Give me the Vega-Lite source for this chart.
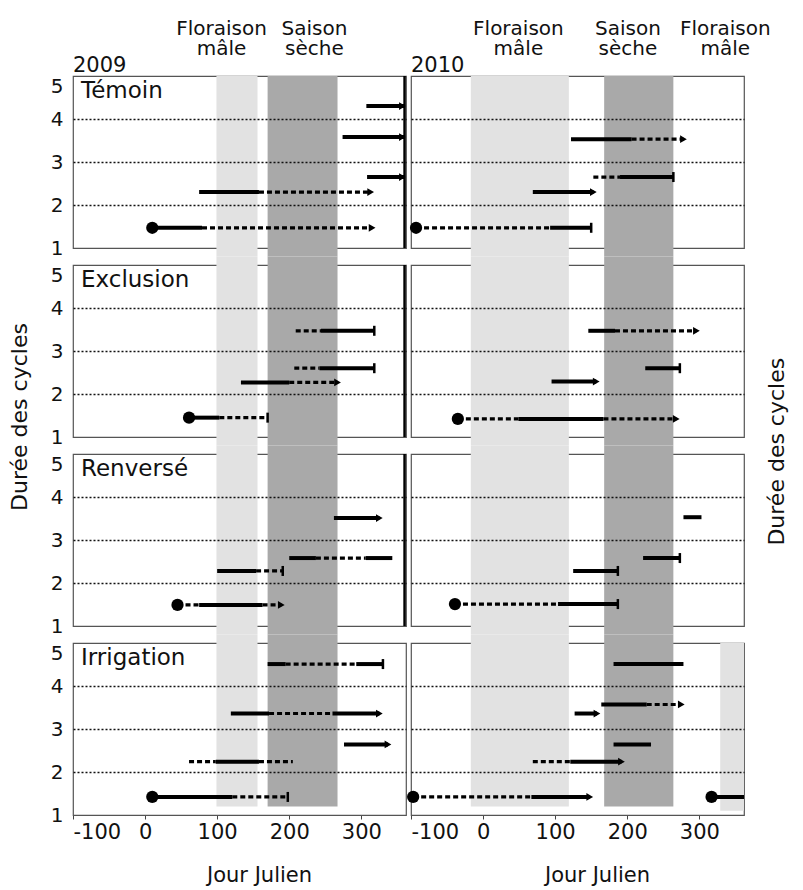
{
  "$schema": "https://vega.github.io/schema/vega-lite/v6.json",
  "padding": {"left": 8, "top": 18, "right": 4, "bottom": 2},
  "title": {"text": "Durée des cycles", "orient": "right", "anchor": "middle", "angle": 270, "fontSize": 22, "font": "DejaVu Sans", "fontWeight": "normal", "color": "#111", "offset": -26},
  "bounds": "flush",
  "data": {"values": [
    {"kind":"band","year":"2009","treatment":"Témoin","start":99,"end":156,"band":"Floraison mâle"},
    {"kind":"band","year":"2009","treatment":"Témoin","start":170,"end":267,"band":"Saison sèche"},
    {"kind":"band","year":"2010","treatment":"Témoin","start":-17,"end":119,"band":"Floraison mâle"},
    {"kind":"band","year":"2010","treatment":"Témoin","start":168,"end":264,"band":"Saison sèche"},
    {"kind":"band","year":"2009","treatment":"Exclusion","start":99,"end":156,"band":"Floraison mâle"},
    {"kind":"band","year":"2009","treatment":"Exclusion","start":170,"end":267,"band":"Saison sèche"},
    {"kind":"band","year":"2010","treatment":"Exclusion","start":-17,"end":119,"band":"Floraison mâle"},
    {"kind":"band","year":"2010","treatment":"Exclusion","start":168,"end":264,"band":"Saison sèche"},
    {"kind":"band","year":"2009","treatment":"Renversé","start":99,"end":156,"band":"Floraison mâle"},
    {"kind":"band","year":"2009","treatment":"Renversé","start":170,"end":267,"band":"Saison sèche"},
    {"kind":"band","year":"2010","treatment":"Renversé","start":-17,"end":119,"band":"Floraison mâle"},
    {"kind":"band","year":"2010","treatment":"Renversé","start":168,"end":264,"band":"Saison sèche"},
    {"kind":"band","year":"2009","treatment":"Irrigation","start":99,"end":156,"band":"Floraison mâle"},
    {"kind":"band","year":"2009","treatment":"Irrigation","start":170,"end":267,"band":"Saison sèche"},
    {"kind":"band","year":"2010","treatment":"Irrigation","start":-17,"end":119,"band":"Floraison mâle"},
    {"kind":"band","year":"2010","treatment":"Irrigation","start":168,"end":264,"band":"Saison sèche"},
    {"kind":"band","year":"2010","treatment":"Irrigation","start":329,"end":362,"band":"Floraison mâle"},

    {"kind":"panel","year":"2009","treatment":"Témoin"},
    {"kind":"panel","year":"2010","treatment":"Témoin"},
    {"kind":"panel","year":"2009","treatment":"Exclusion"},
    {"kind":"panel","year":"2010","treatment":"Exclusion"},
    {"kind":"panel","year":"2009","treatment":"Renversé"},
    {"kind":"panel","year":"2010","treatment":"Renversé"},
    {"kind":"panel","year":"2009","treatment":"Irrigation"},
    {"kind":"panel","year":"2010","treatment":"Irrigation"},

    {"kind":"toplabel","year":"2009","treatment":"Témoin","pos":106,"label":"Floraison\nmâle"},
    {"kind":"toplabel","year":"2009","treatment":"Témoin","pos":235,"label":"Saison\nsèche"},
    {"kind":"toplabel","year":"2010","treatment":"Témoin","pos":49,"label":"Floraison\nmâle"},
    {"kind":"toplabel","year":"2010","treatment":"Témoin","pos":201,"label":"Saison\nsèche"},
    {"kind":"toplabel","year":"2010","treatment":"Témoin","pos":336,"label":"Floraison\nmâle"},

    {"kind":"seg","year":"2009","treatment":"Témoin","cycle":1.47,"start":10,"end":79,"style":"solid"},
    {"kind":"seg","year":"2009","treatment":"Témoin","cycle":1.47,"start":79,"end":315,"style":"dashed"},
    {"kind":"seg","year":"2009","treatment":"Témoin","cycle":2.30,"start":75,"end":158,"style":"solid"},
    {"kind":"seg","year":"2009","treatment":"Témoin","cycle":2.30,"start":158,"end":313,"style":"dashed"},
    {"kind":"seg","year":"2009","treatment":"Témoin","cycle":2.65,"start":308,"end":360,"style":"solid"},
    {"kind":"seg","year":"2009","treatment":"Témoin","cycle":3.58,"start":274,"end":360,"style":"solid"},
    {"kind":"seg","year":"2009","treatment":"Témoin","cycle":4.30,"start":307,"end":360,"style":"solid"},
    {"kind":"mark","year":"2009","treatment":"Témoin","cycle":1.47,"pos":10,"marker":"dot"},
    {"kind":"mark","year":"2009","treatment":"Témoin","cycle":1.47,"pos":315,"marker":"arrow"},
    {"kind":"mark","year":"2009","treatment":"Témoin","cycle":2.30,"pos":313,"marker":"arrow"},
    {"kind":"mark","year":"2009","treatment":"Témoin","cycle":2.65,"pos":357,"marker":"arrow"},
    {"kind":"mark","year":"2009","treatment":"Témoin","cycle":3.58,"pos":357,"marker":"arrow"},
    {"kind":"mark","year":"2009","treatment":"Témoin","cycle":4.30,"pos":357,"marker":"arrow"},

    {"kind":"seg","year":"2010","treatment":"Témoin","cycle":1.47,"start":-93,"end":93,"style":"dashed"},
    {"kind":"seg","year":"2010","treatment":"Témoin","cycle":1.47,"start":93,"end":150,"style":"solid"},
    {"kind":"seg","year":"2010","treatment":"Témoin","cycle":2.30,"start":69,"end":153,"style":"solid"},
    {"kind":"seg","year":"2010","treatment":"Témoin","cycle":2.65,"start":153,"end":190,"style":"dashed"},
    {"kind":"seg","year":"2010","treatment":"Témoin","cycle":2.65,"start":190,"end":264,"style":"solid"},
    {"kind":"seg","year":"2010","treatment":"Témoin","cycle":3.53,"start":122,"end":206,"style":"solid"},
    {"kind":"seg","year":"2010","treatment":"Témoin","cycle":3.53,"start":206,"end":278,"style":"dashed"},
    {"kind":"mark","year":"2010","treatment":"Témoin","cycle":1.47,"pos":-93,"marker":"dot"},
    {"kind":"mark","year":"2010","treatment":"Témoin","cycle":1.47,"pos":150,"marker":"bar"},
    {"kind":"mark","year":"2010","treatment":"Témoin","cycle":2.30,"pos":153,"marker":"arrow"},
    {"kind":"mark","year":"2010","treatment":"Témoin","cycle":2.65,"pos":264,"marker":"bar"},
    {"kind":"mark","year":"2010","treatment":"Témoin","cycle":3.53,"pos":278,"marker":"arrow"},

    {"kind":"seg","year":"2009","treatment":"Exclusion","cycle":1.45,"start":61,"end":103,"style":"solid"},
    {"kind":"seg","year":"2009","treatment":"Exclusion","cycle":1.45,"start":103,"end":170,"style":"dashed"},
    {"kind":"seg","year":"2009","treatment":"Exclusion","cycle":2.27,"start":133,"end":200,"style":"solid"},
    {"kind":"seg","year":"2009","treatment":"Exclusion","cycle":2.27,"start":200,"end":267,"style":"dashed"},
    {"kind":"seg","year":"2009","treatment":"Exclusion","cycle":2.60,"start":207,"end":242,"style":"dashed"},
    {"kind":"seg","year":"2009","treatment":"Exclusion","cycle":2.60,"start":242,"end":318,"style":"solid"},
    {"kind":"seg","year":"2009","treatment":"Exclusion","cycle":3.47,"start":209,"end":244,"style":"dashed"},
    {"kind":"seg","year":"2009","treatment":"Exclusion","cycle":3.47,"start":244,"end":318,"style":"solid"},
    {"kind":"mark","year":"2009","treatment":"Exclusion","cycle":1.45,"pos":61,"marker":"dot"},
    {"kind":"mark","year":"2009","treatment":"Exclusion","cycle":1.45,"pos":170,"marker":"bar"},
    {"kind":"mark","year":"2009","treatment":"Exclusion","cycle":2.27,"pos":267,"marker":"arrow"},
    {"kind":"mark","year":"2009","treatment":"Exclusion","cycle":2.60,"pos":318,"marker":"bar"},
    {"kind":"mark","year":"2009","treatment":"Exclusion","cycle":3.47,"pos":318,"marker":"bar"},

    {"kind":"seg","year":"2010","treatment":"Exclusion","cycle":1.42,"start":-35,"end":49,"style":"dashed"},
    {"kind":"seg","year":"2010","treatment":"Exclusion","cycle":1.42,"start":49,"end":167,"style":"solid"},
    {"kind":"seg","year":"2010","treatment":"Exclusion","cycle":1.42,"start":167,"end":268,"style":"dashed"},
    {"kind":"seg","year":"2010","treatment":"Exclusion","cycle":2.29,"start":95,"end":157,"style":"solid"},
    {"kind":"seg","year":"2010","treatment":"Exclusion","cycle":2.60,"start":225,"end":273,"style":"solid"},
    {"kind":"seg","year":"2010","treatment":"Exclusion","cycle":3.47,"start":146,"end":183,"style":"solid"},
    {"kind":"seg","year":"2010","treatment":"Exclusion","cycle":3.47,"start":183,"end":296,"style":"dashed"},
    {"kind":"mark","year":"2010","treatment":"Exclusion","cycle":1.42,"pos":-35,"marker":"dot"},
    {"kind":"mark","year":"2010","treatment":"Exclusion","cycle":1.42,"pos":268,"marker":"arrow"},
    {"kind":"mark","year":"2010","treatment":"Exclusion","cycle":2.29,"pos":157,"marker":"arrow"},
    {"kind":"mark","year":"2010","treatment":"Exclusion","cycle":2.60,"pos":273,"marker":"bar"},
    {"kind":"mark","year":"2010","treatment":"Exclusion","cycle":3.47,"pos":296,"marker":"arrow"},

    {"kind":"seg","year":"2009","treatment":"Renversé","cycle":1.49,"start":45,"end":75,"style":"dashed"},
    {"kind":"seg","year":"2009","treatment":"Renversé","cycle":1.49,"start":75,"end":163,"style":"solid"},
    {"kind":"seg","year":"2009","treatment":"Renversé","cycle":1.49,"start":163,"end":189,"style":"dashed"},
    {"kind":"seg","year":"2009","treatment":"Renversé","cycle":2.28,"start":100,"end":154,"style":"solid"},
    {"kind":"seg","year":"2009","treatment":"Renversé","cycle":2.28,"start":154,"end":191,"style":"dashed"},
    {"kind":"seg","year":"2009","treatment":"Renversé","cycle":2.58,"start":200,"end":237,"style":"solid"},
    {"kind":"seg","year":"2009","treatment":"Renversé","cycle":2.58,"start":237,"end":306,"style":"dashed"},
    {"kind":"seg","year":"2009","treatment":"Renversé","cycle":2.58,"start":306,"end":343,"style":"solid"},
    {"kind":"seg","year":"2009","treatment":"Renversé","cycle":3.51,"start":262,"end":325,"style":"solid"},
    {"kind":"mark","year":"2009","treatment":"Renversé","cycle":1.49,"pos":45,"marker":"dot"},
    {"kind":"mark","year":"2009","treatment":"Renversé","cycle":1.49,"pos":189,"marker":"arrow"},
    {"kind":"mark","year":"2009","treatment":"Renversé","cycle":2.28,"pos":191,"marker":"bar"},
    {"kind":"mark","year":"2009","treatment":"Renversé","cycle":3.51,"pos":325,"marker":"arrow"},

    {"kind":"seg","year":"2010","treatment":"Renversé","cycle":1.51,"start":-39,"end":104,"style":"dashed"},
    {"kind":"seg","year":"2010","treatment":"Renversé","cycle":1.51,"start":104,"end":187,"style":"solid"},
    {"kind":"seg","year":"2010","treatment":"Renversé","cycle":2.28,"start":125,"end":187,"style":"solid"},
    {"kind":"seg","year":"2010","treatment":"Renversé","cycle":2.58,"start":222,"end":273,"style":"solid"},
    {"kind":"seg","year":"2010","treatment":"Renversé","cycle":3.53,"start":278,"end":303,"style":"solid"},
    {"kind":"mark","year":"2010","treatment":"Renversé","cycle":1.51,"pos":-39,"marker":"dot"},
    {"kind":"mark","year":"2010","treatment":"Renversé","cycle":1.51,"pos":187,"marker":"bar"},
    {"kind":"mark","year":"2010","treatment":"Renversé","cycle":2.28,"pos":187,"marker":"bar"},
    {"kind":"mark","year":"2010","treatment":"Renversé","cycle":2.58,"pos":273,"marker":"bar"},

    {"kind":"seg","year":"2009","treatment":"Irrigation","cycle":1.42,"start":10,"end":121,"style":"solid"},
    {"kind":"seg","year":"2009","treatment":"Irrigation","cycle":1.42,"start":121,"end":198,"style":"dashed"},
    {"kind":"seg","year":"2009","treatment":"Irrigation","cycle":2.24,"start":61,"end":98,"style":"dashed"},
    {"kind":"seg","year":"2009","treatment":"Irrigation","cycle":2.24,"start":98,"end":158,"style":"solid"},
    {"kind":"seg","year":"2009","treatment":"Irrigation","cycle":2.24,"start":158,"end":205,"style":"dashed"},
    {"kind":"seg","year":"2009","treatment":"Irrigation","cycle":2.64,"start":276,"end":337,"style":"solid"},
    {"kind":"seg","year":"2009","treatment":"Irrigation","cycle":3.36,"start":119,"end":172,"style":"solid"},
    {"kind":"seg","year":"2009","treatment":"Irrigation","cycle":3.36,"start":172,"end":260,"style":"dashed"},
    {"kind":"seg","year":"2009","treatment":"Irrigation","cycle":3.36,"start":260,"end":325,"style":"solid"},
    {"kind":"seg","year":"2009","treatment":"Irrigation","cycle":4.51,"start":170,"end":195,"style":"solid"},
    {"kind":"seg","year":"2009","treatment":"Irrigation","cycle":4.51,"start":195,"end":293,"style":"dashed"},
    {"kind":"seg","year":"2009","treatment":"Irrigation","cycle":4.51,"start":293,"end":330,"style":"solid"},
    {"kind":"mark","year":"2009","treatment":"Irrigation","cycle":1.42,"pos":10,"marker":"dot"},
    {"kind":"mark","year":"2009","treatment":"Irrigation","cycle":1.42,"pos":198,"marker":"bar"},
    {"kind":"mark","year":"2009","treatment":"Irrigation","cycle":2.64,"pos":337,"marker":"arrow"},
    {"kind":"mark","year":"2009","treatment":"Irrigation","cycle":3.36,"pos":325,"marker":"arrow"},
    {"kind":"mark","year":"2009","treatment":"Irrigation","cycle":4.51,"pos":330,"marker":"bar"},

    {"kind":"seg","year":"2010","treatment":"Irrigation","cycle":1.42,"start":-97,"end":67,"style":"dashed"},
    {"kind":"seg","year":"2010","treatment":"Irrigation","cycle":1.42,"start":67,"end":148,"style":"solid"},
    {"kind":"seg","year":"2010","treatment":"Irrigation","cycle":1.42,"start":317,"end":362,"style":"solid"},
    {"kind":"seg","year":"2010","treatment":"Irrigation","cycle":2.24,"start":69,"end":121,"style":"dashed"},
    {"kind":"seg","year":"2010","treatment":"Irrigation","cycle":2.24,"start":121,"end":192,"style":"solid"},
    {"kind":"seg","year":"2010","treatment":"Irrigation","cycle":2.64,"start":181,"end":233,"style":"solid"},
    {"kind":"seg","year":"2010","treatment":"Irrigation","cycle":3.36,"start":127,"end":158,"style":"solid"},
    {"kind":"seg","year":"2010","treatment":"Irrigation","cycle":3.57,"start":164,"end":227,"style":"solid"},
    {"kind":"seg","year":"2010","treatment":"Irrigation","cycle":3.57,"start":227,"end":275,"style":"dashed"},
    {"kind":"seg","year":"2010","treatment":"Irrigation","cycle":4.51,"start":181,"end":278,"style":"solid"},
    {"kind":"mark","year":"2010","treatment":"Irrigation","cycle":1.42,"pos":-97,"marker":"dot"},
    {"kind":"mark","year":"2010","treatment":"Irrigation","cycle":1.42,"pos":148,"marker":"arrow"},
    {"kind":"mark","year":"2010","treatment":"Irrigation","cycle":1.42,"pos":317,"marker":"dot"},
    {"kind":"mark","year":"2010","treatment":"Irrigation","cycle":2.24,"pos":192,"marker":"arrow"},
    {"kind":"mark","year":"2010","treatment":"Irrigation","cycle":3.36,"pos":158,"marker":"arrow"},
    {"kind":"mark","year":"2010","treatment":"Irrigation","cycle":3.57,"pos":275,"marker":"arrow"}
  ]},
  "facet": {
    "row": {"field": "treatment", "type": "nominal", "sort": ["Témoin", "Exclusion", "Renversé", "Irrigation"], "title": "Durée des cycles",
      "header": {"labels": false, "titleFontSize": 22, "titleFont": "DejaVu Sans", "titleFontWeight": "normal", "titleColor": "#111", "titlePadding": 8}},
    "column": {"field": "year", "type": "nominal", "title": null, "header": {"labels": false}}
  },
  "spacing": {"row": 17, "column": 5},
  "spec": {
    "width": 333,
    "height": 172,
    "layer": [
      {
        "transform": [{"filter": "datum.kind === 'band' && datum.treatment === 'Témoin'"}],
        "mark": {"type": "rect", "clip": false},
        "encoding": {
          "x": {"field": "start", "type": "quantitative", "title": "Jour Julien",
            "scale": {"domain": [-100, 362], "nice": false, "zero": false},
            "axis": {"values": [-100, 0, 100, 200, 300], "labelExpr": "'' + datum.value", "grid": false, "domain": false, "labelFontSize": 21, "titleFontSize": 21, "titleFontWeight": "normal", "labelColor": "#111", "titleColor": "#111", "tickColor": "#444", "tickSize": 4, "titlePadding": 22, "labelPadding": 2, "labelFont": "DejaVu Sans", "titleFont": "DejaVu Sans", "titleX": 186}},
          "x2": {"field": "end"},
          "y": {"datum": 5, "type": "quantitative", "title": null,
            "scale": {"domain": [1, 5], "nice": false, "zero": false},
            "axis": {"values": [1, 2, 3, 4, 5], "grid": true, "gridColor": "#111", "gridDash": [2, 2], "gridWidth": 1.6,
              "gridOpacity": {"condition": {"test": "datum.value === 1 || datum.value === 5", "value": 0}, "value": 1},
              "labelBaseline": {"condition": {"test": "datum.value === 5", "value": "top"}, "value": "middle"},
              "ticks": false, "domain": false, "labelFontSize": 20, "labelColor": "#111", "labelPadding": 10, "labelFont": "DejaVu Sans", "zindex": 1}},
          "y2": {"datum": 0.8},
          "color": {"field": "band", "type": "nominal", "scale": {"domain": ["Floraison mâle", "Saison sèche"], "range": ["#e2e2e2", "#a9a9a9"]}, "legend": null}
        }
      },
      {
        "transform": [{"filter": "datum.kind === 'band' && (datum.treatment === 'Exclusion' || datum.treatment === 'Renversé')"}],
        "mark": {"type": "rect", "clip": false},
        "encoding": {
          "x": {"field": "start", "type": "quantitative", "title": "Jour Julien", "scale": {"domain": [-100, 362], "nice": false, "zero": false}},
          "x2": {"field": "end"},
          "y": {"datum": 5.2, "type": "quantitative", "title": null, "scale": {"domain": [1, 5], "nice": false, "zero": false}},
          "y2": {"datum": 0.8},
          "color": {"field": "band", "type": "nominal", "scale": {"domain": ["Floraison mâle", "Saison sèche"], "range": ["#e2e2e2", "#a9a9a9"]}, "legend": null}
        }
      },
      {
        "transform": [{"filter": "datum.kind === 'band' && datum.treatment === 'Irrigation' && datum.start < 300"}],
        "mark": {"type": "rect", "clip": false},
        "encoding": {
          "x": {"field": "start", "type": "quantitative", "title": "Jour Julien", "scale": {"domain": [-100, 362], "nice": false, "zero": false}},
          "x2": {"field": "end"},
          "y": {"datum": 5.2, "type": "quantitative", "title": null, "scale": {"domain": [1, 5], "nice": false, "zero": false}},
          "y2": {"datum": 1.2},
          "color": {"field": "band", "type": "nominal", "scale": {"domain": ["Floraison mâle", "Saison sèche"], "range": ["#e2e2e2", "#a9a9a9"]}, "legend": null}
        }
      },
      {
        "transform": [{"filter": "datum.kind === 'band' && datum.treatment === 'Irrigation' && datum.start >= 300"}],
        "mark": {"type": "rect", "clip": false},
        "encoding": {
          "x": {"field": "start", "type": "quantitative", "title": "Jour Julien", "scale": {"domain": [-100, 362], "nice": false, "zero": false}},
          "x2": {"field": "end"},
          "y": {"datum": 5, "type": "quantitative", "title": null, "scale": {"domain": [1, 5], "nice": false, "zero": false}},
          "y2": {"datum": 1.1},
          "color": {"field": "band", "type": "nominal", "scale": {"domain": ["Floraison mâle", "Saison sèche"], "range": ["#e2e2e2", "#a9a9a9"]}, "legend": null}
        }
      },
      {
        "transform": [{"filter": "datum.kind === 'seg' && datum.style === 'solid'"}],
        "mark": {"type": "rule", "color": "#000", "strokeWidth": 4},
        "encoding": {
          "x": {"field": "start", "type": "quantitative", "title": "Jour Julien", "scale": {"domain": [-100, 362], "nice": false, "zero": false}},
          "x2": {"field": "end"},
          "y": {"field": "cycle", "type": "quantitative", "title": null, "scale": {"domain": [1, 5], "nice": false, "zero": false}}
        }
      },
      {
        "transform": [{"filter": "datum.kind === 'seg' && datum.style === 'dashed'"}],
        "mark": {"type": "rule", "color": "#000", "strokeWidth": 3.2, "strokeDash": [5, 3]},
        "encoding": {
          "x": {"field": "start", "type": "quantitative", "title": "Jour Julien", "scale": {"domain": [-100, 362], "nice": false, "zero": false}},
          "x2": {"field": "end"},
          "y": {"field": "cycle", "type": "quantitative", "title": null, "scale": {"domain": [1, 5], "nice": false, "zero": false}}
        }
      },
      {
        "transform": [{"filter": "datum.kind === 'mark' && datum.marker === 'dot'"}],
        "mark": {"type": "point", "shape": "circle", "filled": true, "color": "#000", "opacity": 1, "size": 150},
        "encoding": {
          "x": {"field": "pos", "type": "quantitative", "title": "Jour Julien", "scale": {"domain": [-100, 362], "nice": false, "zero": false}},
          "y": {"field": "cycle", "type": "quantitative", "title": null, "scale": {"domain": [1, 5], "nice": false, "zero": false}}
        }
      },
      {
        "transform": [{"filter": "datum.kind === 'mark' && datum.marker === 'arrow'"}],
        "mark": {"type": "point", "shape": "triangle-right", "filled": true, "color": "#000", "opacity": 1, "size": 60},
        "encoding": {
          "x": {"field": "pos", "type": "quantitative", "title": "Jour Julien", "scale": {"domain": [-100, 362], "nice": false, "zero": false}},
          "y": {"field": "cycle", "type": "quantitative", "title": null, "scale": {"domain": [1, 5], "nice": false, "zero": false}}
        }
      },
      {
        "transform": [{"filter": "datum.kind === 'mark' && datum.marker === 'bar'"}],
        "mark": {"type": "point", "shape": "M0,-1L0,1", "filled": false, "color": "#000", "opacity": 1, "strokeWidth": 2.5, "size": 100},
        "encoding": {
          "x": {"field": "pos", "type": "quantitative", "title": "Jour Julien", "scale": {"domain": [-100, 362], "nice": false, "zero": false}},
          "y": {"field": "cycle", "type": "quantitative", "title": null, "scale": {"domain": [1, 5], "nice": false, "zero": false}}
        }
      },
      {
        "transform": [{"filter": "datum.kind === 'panel' && datum.year === '2009' && datum.treatment !== 'Irrigation'"}],
        "mark": {"type": "rule", "color": "#000", "strokeWidth": 2.5},
        "encoding": {
          "x": {"datum": 360, "type": "quantitative", "scale": {"domain": [-100, 362], "nice": false, "zero": false}},
          "y": {"datum": 5, "type": "quantitative", "scale": {"domain": [1, 5], "nice": false, "zero": false}},
          "y2": {"datum": 1}
        }
      },
      {
        "transform": [{"filter": "datum.kind === 'panel' && datum.year === '2009'"}],
        "mark": {"type": "text", "align": "left", "baseline": "top", "dx": 8, "dy": 4, "fontSize": 23, "font": "DejaVu Sans", "color": "#111"},
        "encoding": {
          "x": {"datum": -100, "type": "quantitative", "scale": {"domain": [-100, 362], "nice": false, "zero": false}},
          "y": {"datum": 5, "type": "quantitative", "scale": {"domain": [1, 5], "nice": false, "zero": false}},
          "text": {"field": "treatment"}
        }
      },
      {
        "transform": [{"filter": "datum.kind === 'panel' && datum.treatment === 'Témoin'"}],
        "mark": {"type": "text", "align": "left", "baseline": "alphabetic", "dx": 0, "dy": -4, "fontSize": 21, "font": "DejaVu Sans", "color": "#111"},
        "encoding": {
          "x": {"datum": -100, "type": "quantitative", "scale": {"domain": [-100, 362], "nice": false, "zero": false}},
          "y": {"datum": 5, "type": "quantitative", "scale": {"domain": [1, 5], "nice": false, "zero": false}},
          "text": {"field": "year"}
        }
      },
      {
        "transform": [{"filter": "datum.kind === 'toplabel'"}],
        "mark": {"type": "text", "align": "center", "baseline": "alphabetic", "dy": -41, "fontSize": 20, "font": "DejaVu Sans", "color": "#111", "lineBreak": "\n", "lineHeight": 20},
        "encoding": {
          "x": {"field": "pos", "type": "quantitative", "scale": {"domain": [-100, 362], "nice": false, "zero": false}},
          "y": {"datum": 5, "type": "quantitative", "scale": {"domain": [1, 5], "nice": false, "zero": false}},
          "text": {"field": "label"}
        }
      }
    ]
  },
  "config": {
    "view": {"stroke": "#555", "strokeWidth": 1.2},
    "font": "DejaVu Sans"
  }
}
